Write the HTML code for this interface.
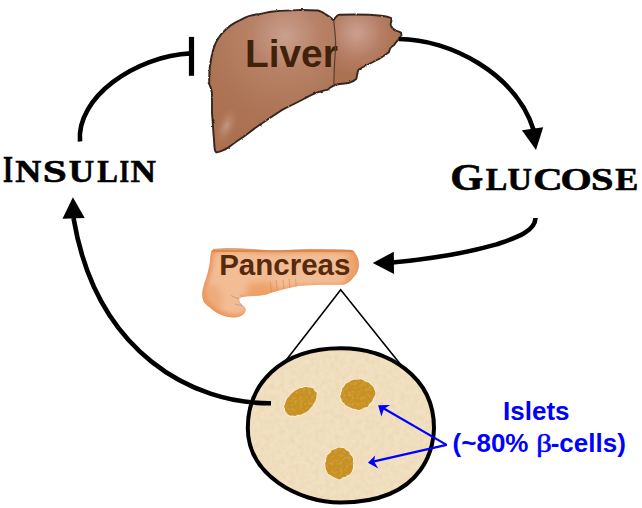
<!DOCTYPE html>
<html><head><meta charset="utf-8">
<style>
html,body{margin:0;padding:0;background:#fff;width:642px;height:508px;overflow:hidden}
svg{display:block}
</style></head><body>
<svg width="642" height="508" viewBox="0 0 642 508">
<defs>
  <radialGradient id="lv1" cx="285" cy="36" r="110" gradientUnits="userSpaceOnUse">
    <stop offset="0" stop-color="#caa08f"/>
    <stop offset="0.3" stop-color="#b88268"/>
    <stop offset="0.7" stop-color="#ad7555"/>
    <stop offset="1" stop-color="#ab7050"/>
  </radialGradient>
  <radialGradient id="lv2" cx="357" cy="33" r="42" gradientUnits="userSpaceOnUse">
    <stop offset="0" stop-color="#cba091"/>
    <stop offset="0.6" stop-color="#b57d62"/>
    <stop offset="1" stop-color="#ab7252"/>
  </radialGradient>
  <radialGradient id="lv3">
    <stop offset="0" stop-color="#cfa690" stop-opacity="0.7"/>
    <stop offset="0.45" stop-color="#c49680" stop-opacity="0.4"/>
    <stop offset="1" stop-color="#b57b5e" stop-opacity="0"/>
  </radialGradient>
  <linearGradient id="pc" x1="0" y1="248" x2="0" y2="318" gradientUnits="userSpaceOnUse">
    <stop offset="0" stop-color="#e98f4c"/>
    <stop offset="0.08" stop-color="#eea26a"/>
    <stop offset="0.2" stop-color="#f2bd96"/>
    <stop offset="0.55" stop-color="#f0b68c"/>
    <stop offset="1" stop-color="#e99e66"/>
  </linearGradient>
  <radialGradient id="pc2" cx="280" cy="289" r="30" gradientUnits="userSpaceOnUse">
    <stop offset="0" stop-color="#e99455" stop-opacity="0.8"/>
    <stop offset="1" stop-color="#e99455" stop-opacity="0"/>
  </radialGradient>
  <filter id="tex" x="0" y="0" width="100%" height="100%" color-interpolation-filters="sRGB">
    <feTurbulence type="fractalNoise" baseFrequency="0.2" numOctaves="3" seed="4"/>
    <feColorMatrix type="matrix" values="0 0 0 0 0.90  0 0 0 0 0.78  0 0 0 0 0.58  2.2 0 0 0 -0.9"/>
  </filter>
  <filter id="tex2" x="0" y="0" width="100%" height="100%" color-interpolation-filters="sRGB">
    <feTurbulence type="fractalNoise" baseFrequency="0.35" numOctaves="2" seed="8"/>
    <feColorMatrix type="matrix" values="0 0 0 0 0.80  0 0 0 0 0.66  0 0 0 0 0.30  3 0 0 0 -1.3"/>
  </filter>
  <clipPath id="ovclip"><path d="M340.5 348.3 C 388.3 348.3, 434 376.7, 434 428 C 434 440.1, 429.4 502.5, 340.5 502.5 C 298.5 502.5, 247.8 475, 247.8 428 C 247.8 385.1, 280 348.3, 340.5 348.3 Z"/></clipPath>
  <clipPath id="isclip">
    <path d="M314.5 390.9 L315.5 391.7 L316.7 392.5 L316.8 394.0 L316.3 395.7 L316.4 397.1 L316.2 398.6 L315.5 400.2 L315.2 401.8 L313.9 403.3 L313.0 404.9 L312.0 406.5 L310.6 408.0 L309.3 409.5 L307.8 411.0 L306.1 412.2 L304.1 412.9 L302.4 413.9 L300.5 414.7 L298.8 414.7 L297.1 415.0 L295.1 416.0 L293.6 415.7 L292.0 415.5 L290.2 415.8 L288.9 415.1 L287.8 414.3 L286.7 413.5 L286.4 412.1 L285.3 411.3 L285.1 409.9 L285.0 408.5 L284.2 407.4 L284.0 405.9 L285.0 404.2 L285.4 402.6 L286.1 401.0 L286.6 399.4 L287.7 397.8 L289.3 396.3 L290.3 394.7 L291.8 393.2 L293.4 391.9 L295.1 390.6 L297.0 389.8 L298.8 388.6 L300.7 387.9 L302.4 387.9 L304.3 387.1 L306.0 387.1 L307.6 387.2 L309.0 387.5 L310.7 387.4 L312.1 388.0 L313.5 388.4 L314.1 389.7Z"/>
    <path d="M375.4 392.7 L375.3 394.5 L374.6 396.2 L373.6 397.7 L372.8 399.2 L372.4 400.8 L371.4 402.2 L369.9 403.2 L368.8 404.6 L368.1 406.5 L366.4 407.3 L364.4 407.6 L362.7 408.4 L361.0 409.6 L359.1 410.0 L357.1 409.8 L355.2 409.1 L353.3 408.8 L351.5 408.3 L350.0 407.3 L348.3 406.7 L346.7 405.8 L345.1 404.9 L344.3 403.3 L342.8 402.2 L341.7 400.8 L341.5 399.0 L340.4 397.5 L340.3 395.8 L341.1 394.1 L341.1 392.5 L341.9 390.9 L342.1 389.3 L342.9 387.7 L344.1 386.5 L345.0 385.0 L345.9 383.5 L347.8 382.7 L349.4 381.9 L350.8 380.7 L352.6 380.0 L354.5 379.5 L356.4 379.7 L358.3 379.6 L360.3 379.2 L362.1 379.7 L363.8 380.4 L365.3 381.4 L366.9 382.2 L368.9 382.6 L370.0 384.0 L371.5 385.0 L372.6 386.4 L373.7 387.8 L374.2 389.5 L375.1 391.0Z"/>
    <path d="M353.4 463.2 L353.0 464.9 L353.0 466.7 L352.8 468.5 L352.3 470.1 L351.7 471.8 L350.8 473.3 L349.5 474.4 L347.7 474.9 L346.6 476.0 L345.3 476.9 L343.7 477.0 L342.3 477.5 L341.0 478.9 L339.4 479.5 L337.8 479.0 L336.3 478.2 L334.8 477.8 L333.4 477.0 L332.0 476.3 L330.8 475.2 L329.3 474.4 L327.9 473.4 L327.0 471.9 L326.3 470.3 L325.7 468.5 L325.5 466.7 L325.4 465.0 L325.2 463.2 L326.0 461.5 L326.2 459.8 L326.3 458.1 L326.9 456.5 L327.5 454.9 L328.9 453.9 L330.2 452.9 L331.1 451.5 L331.9 449.9 L333.6 449.7 L335.0 449.2 L336.4 448.4 L337.8 447.7 L339.4 447.6 L340.9 448.1 L342.6 447.7 L344.1 448.2 L345.3 449.6 L346.5 450.5 L348.0 451.1 L349.2 452.3 L349.9 453.8 L350.8 455.2 L352.1 456.4 L352.8 458.0 L353.2 459.7 L353.0 461.5Z"/>
  </clipPath>
  <filter id="pblur" x="-10%" y="-10%" width="120%" height="120%"><feGaussianBlur stdDeviation="3"/></filter>
  <filter id="pblur2" x="-50%" y="-50%" width="200%" height="200%"><feGaussianBlur stdDeviation="3"/></filter>
  <filter id="pblur3" x="-10%" y="-100%" width="120%" height="300%"><feGaussianBlur stdDeviation="0.8"/></filter>
  <filter id="rough" x="-5%" y="-5%" width="110%" height="110%">
    <feTurbulence type="fractalNoise" baseFrequency="0.25" numOctaves="2" seed="2" result="n"/>
    <feDisplacementMap in="SourceGraphic" in2="n" scale="2.2" xChannelSelector="R" yChannelSelector="G"/>
  </filter>
</defs>

<!-- liver -->
<g id="liver">
<path d="M209.2 82.5 C 209 73, 210 63, 211.8 55.5 C 213 50, 214 47, 215.4 43.7 C 217 40, 219 37, 221.3 34.2 C 224 31, 227 28, 230.7 25.4 C 234 23, 237 21.5, 240.2 20.1 C 243 18.5, 246 17, 249.6 15.9 C 253 15, 256 14.5, 260 14 C 265 13, 269 12, 273.2 11.5 C 281 10.8, 290 10.2, 297 10.1 C 305 10, 312 10.2, 318.1 10.5 C 321 11, 323 12.5, 325.1 14 C 327.5 15.5, 330 17, 331.4 18.2 C 332.3 19, 333 19.8, 333.5 20.3 C 335 18, 337 15.5, 339.1 14.7 C 350 14.5, 365 14.6, 369.2 14.8 C 378 15.5, 384 16, 386.9 16.7 C 390 17.5, 392 18, 391.9 18.7 C 391 21, 390.5 24, 390.9 25.6 C 392 28, 394 30, 395.8 30.5 C 398 31.5, 400 32, 400.7 32.5 C 401.5 34, 401.5 35.5, 401.1 36.4 C 400 38, 399 39.5, 397.8 40.4 C 396 42, 395 44, 393.8 45.3 C 391 47, 390 48.5, 389.9 49.2 C 389.5 50.5, 389 51.5, 388.9 52.2 C 385 55, 382 57, 379 59 C 374 61.5, 370 63.5, 367.2 65 C 363 67, 360 68.5, 358.4 69.9 C 357 73, 357 76, 356.4 78.7 C 354 81, 352 82, 349.5 82.7 C 345 83.5, 338 84, 335.7 84.6 C 334 85, 333 86, 331.8 86.6 C 330 87.5, 329 88.5, 327.9 89.6 C 322 91, 318 92, 315.6 93.1 C 310 95.5, 307 97, 304.7 98.5 C 298 102, 290 106, 285 108.3 C 278 112, 270 118, 263.2 122.5 C 256 127, 250 132, 243.6 136.7 C 238 140, 233 144, 228.3 147.6 C 224 150, 219 152, 216.4 152.4 C 215 151.5, 215 150.5, 214.8 149.8 C 214 143, 214 138, 213.5 134.5 C 213 125, 212.3 118, 212 112.7 C 212 105, 212 98, 212 93 C 211 88, 210 85, 208.7 82.9 Z" fill="url(#lv1)"/>
<path d="M333.5 20.3 C 335 18, 337 15.5, 339.1 14.7 C 350 14.5, 365 14.6, 369.2 14.8 C 378 15.5, 384 16, 386.9 16.7 C 390 17.5, 392 18, 391.9 18.7 C 391 21, 390.5 24, 390.9 25.6 C 392 28, 394 30, 395.8 30.5 C 398 31.5, 400 32, 400.7 32.5 C 401.5 34, 401.5 35.5, 401.1 36.4 C 400 38, 399 39.5, 397.8 40.4 C 396 42, 395 44, 393.8 45.3 C 391 47, 390 48.5, 389.9 49.2 C 389.5 50.5, 389 51.5, 388.9 52.2 C 385 55, 382 57, 379 59 C 374 61.5, 370 63.5, 367.2 65 C 363 67, 360 68.5, 358.4 69.9 C 357 73, 357 76, 356.4 78.7 C 354 81, 352 82, 349.5 82.7 C 345 83.5, 338 84, 333.9 86 C 334 76, 334.5 66, 334.7 60.2 C 335 55, 335.6 50, 335.6 43.5 C 335.5 35, 334.5 26, 333.5 20.3 Z" fill="url(#lv2)"/>
<ellipse cx="226.5" cy="126" rx="10" ry="20" transform="rotate(22 226.5 126)" fill="url(#lv3)"/>

<path d="M209.2 82.5 C 209 73, 210 63, 211.8 55.5 C 213 50, 214 47, 215.4 43.7 C 217 40, 219 37, 221.3 34.2 C 224 31, 227 28, 230.7 25.4 C 234 23, 237 21.5, 240.2 20.1 C 243 18.5, 246 17, 249.6 15.9 C 253 15, 256 14.5, 260 14 C 265 13, 269 12, 273.2 11.5 C 281 10.8, 290 10.2, 297 10.1 C 305 10, 312 10.2, 318.1 10.5 C 321 11, 323 12.5, 325.1 14 C 327.5 15.5, 330 17, 331.4 18.2 C 332.3 19, 333 19.8, 333.5 20.3 C 335 18, 337 15.5, 339.1 14.7 C 350 14.5, 365 14.6, 369.2 14.8 C 378 15.5, 384 16, 386.9 16.7 C 390 17.5, 392 18, 391.9 18.7 C 391 21, 390.5 24, 390.9 25.6 C 392 28, 394 30, 395.8 30.5 C 398 31.5, 400 32, 400.7 32.5 C 401.5 34, 401.5 35.5, 401.1 36.4 C 400 38, 399 39.5, 397.8 40.4 C 396 42, 395 44, 393.8 45.3 C 391 47, 390 48.5, 389.9 49.2 C 389.5 50.5, 389 51.5, 388.9 52.2 C 385 55, 382 57, 379 59 C 374 61.5, 370 63.5, 367.2 65 C 363 67, 360 68.5, 358.4 69.9 C 357 73, 357 76, 356.4 78.7 C 354 81, 352 82, 349.5 82.7 C 345 83.5, 338 84, 335.7 84.6 C 334 85, 333 86, 331.8 86.6 C 330 87.5, 329 88.5, 327.9 89.6 C 322 91, 318 92, 315.6 93.1 C 310 95.5, 307 97, 304.7 98.5 C 298 102, 290 106, 285 108.3 C 278 112, 270 118, 263.2 122.5 C 256 127, 250 132, 243.6 136.7 C 238 140, 233 144, 228.3 147.6 C 224 150, 219 152, 216.4 152.4 C 215 151.5, 215 150.5, 214.8 149.8 C 214 143, 214 138, 213.5 134.5 C 213 125, 212.3 118, 212 112.7 C 212 105, 212 98, 212 93 C 211 88, 210 85, 208.7 82.9 Z" fill="none" stroke="#35271f" stroke-width="1.9" filter="url(#rough)"/>
</g>
<text x="247.4" y="66.5" font-family="Liberation Sans, sans-serif" font-weight="bold" font-size="38.9" fill="#40220a" dx="-2.5">Liver</text>
<path d="M333.7 20.3 C 334.5 28, 335.6 36, 335.6 43.5 C 335.6 52, 334.9 58, 334.7 60.2 C 334.3 68, 333.9 76, 333.9 87" fill="none" stroke="#5a3e34" stroke-width="1.2"/>

<!-- pancreas -->
<clipPath id="pcclip"><path d="M213.5 249.3 C 222 248.5, 228 248.3, 234.7 248.5 C 250 249, 262 250.5, 274.4 250.6 C 290 250.5, 300 249.3, 314.2 249.3 C 330 249.5, 342 249.8, 351.2 250.1 C 353.5 250.8, 354.5 251.8, 355.2 253.2 C 357.5 256, 358.9 260, 358.9 265 C 358.8 269, 357 274, 354.1 276.6 C 352 279.5, 350 281.5, 348.3 282.4 C 346 284, 344 284.8, 342.5 284.8 L 319.3 284.8 C 312 285, 305 285.4, 300 285.8 C 292 286.8, 284 289.5, 277.4 290.9 C 272 292, 268 294, 264 295 C 258 296, 248 296, 243 296.9 C 241 297.3, 239.3 298, 239.1 298.7 C 239.2 300, 239.5 301.2, 240 302.4 C 241 304, 242.5 305, 243.8 306.2 C 245 307.5, 245.8 308.8, 245.7 309.9 C 245.5 312, 244 314, 241.9 315.5 C 240 316.8, 237.5 317.4, 235.4 317.4 C 232 317.4, 229 317, 226 316.4 C 222.5 315.5, 219.5 314.2, 216.7 312.7 C 214 311, 211.5 309.2, 209.2 307.1 C 206.8 305.2, 204.8 303.5, 203.6 301.5 C 202.5 299, 202.1 296.5, 202.2 294 C 202.4 289, 204 284, 205.6 279.7 C 207.3 274.5, 208.7 269, 209.6 263.8 C 210.2 259, 210.3 256, 210.9 253.2 C 211.3 251.2, 212.2 249.8, 213.5 249.3 Z"/></clipPath>
<g clip-path="url(#pcclip)">
  <rect x="195" y="240" width="170" height="85" fill="#e99358"/>
  <path d="M213.5 249.3 C 222 248.5, 228 248.3, 234.7 248.5 C 250 249, 262 250.5, 274.4 250.6 C 290 250.5, 300 249.3, 314.2 249.3 C 330 249.5, 342 249.8, 351.2 250.1 C 353.5 250.8, 354.5 251.8, 355.2 253.2 C 357.5 256, 358.9 260, 358.9 265 C 358.8 269, 357 274, 354.1 276.6 C 352 279.5, 350 281.5, 348.3 282.4 C 346 284, 344 284.8, 342.5 284.8 L 319.3 284.8 C 312 285, 305 285.4, 300 285.8 C 292 286.8, 284 289.5, 277.4 290.9 C 272 292, 268 294, 264 295 C 258 296, 248 296, 243 296.9 C 241 297.3, 239.3 298, 239.1 298.7 C 239.2 300, 239.5 301.2, 240 302.4 C 241 304, 242.5 305, 243.8 306.2 C 245 307.5, 245.8 308.8, 245.7 309.9 C 245.5 312, 244 314, 241.9 315.5 C 240 316.8, 237.5 317.4, 235.4 317.4 C 232 317.4, 229 317, 226 316.4 C 222.5 315.5, 219.5 314.2, 216.7 312.7 C 214 311, 211.5 309.2, 209.2 307.1 C 206.8 305.2, 204.8 303.5, 203.6 301.5 C 202.5 299, 202.1 296.5, 202.2 294 C 202.4 289, 204 284, 205.6 279.7 C 207.3 274.5, 208.7 269, 209.6 263.8 C 210.2 259, 210.3 256, 210.9 253.2 C 211.3 251.2, 212.2 249.8, 213.5 249.3 Z" fill="#f2bd95" filter="url(#pblur)" transform="translate(281 283) scale(0.96 0.92) translate(-281 -283)"/>
  <ellipse cx="262" cy="290" rx="16" ry="8" fill="#eb9a5c" opacity="0.75" filter="url(#pblur2)"/>
  <ellipse cx="352" cy="270" rx="9" ry="16" fill="#ec985c" opacity="0.6" filter="url(#pblur2)"/>
  <ellipse cx="212" cy="300" rx="10" ry="16" fill="#ea965c" opacity="0.45" filter="url(#pblur2)"/>
  <path d="M205 251 C 250 251.5, 320 250.5, 357 251.5" fill="none" stroke="#e8843a" stroke-width="4.5" filter="url(#pblur3)"/>
  <g stroke="#d98a58" stroke-width="0.9" fill="none" opacity="0.7">
    <path d="M270 281 L271.5 292"/><path d="M276 280 L277.5 291"/><path d="M283 280 L284 290"/><path d="M289 279 L290 289"/><path d="M295.5 279 L296.5 288"/>
  </g>
  <g stroke="#9c948c" stroke-width="0.8" fill="none" opacity="0.8">
    <path d="M231 295.5 L235 297.5 L239 298.7"/><path d="M235 304 L238.5 305 L242 305.5"/><path d="M241 295 L242 297"/>
  </g>
</g>
<path d="M213.5 249.3 C 222 248.5, 228 248.3, 234.7 248.5 C 250 249, 262 250.5, 274.4 250.6 C 290 250.5, 300 249.3, 314.2 249.3 C 330 249.5, 342 249.8, 351.2 250.1" fill="none" stroke="#9a9aa0" stroke-width="0.8" opacity="0.7"/>
<text x="221.1" y="275.4" font-family="Liberation Sans, sans-serif" font-weight="bold" font-size="29.5" fill="#572a0b" dx="-1.9">Pancreas</text>

<!-- zoom triangle -->
<polyline points="285.5,361 340.7,289.7 401,365" fill="none" stroke="#000" stroke-width="1.6"/>

<!-- oval -->
<path d="M340.5 348.3 C 388.3 348.3, 434 376.7, 434 428 C 434 440.1, 429.4 502.5, 340.5 502.5 C 298.5 502.5, 247.8 475, 247.8 428 C 247.8 385.1, 280 348.3, 340.5 348.3 Z" fill="#f1e0c1"/>
<rect x="240" y="340" width="200" height="170" filter="url(#tex)" clip-path="url(#ovclip)" opacity="0.3"/>
<path d="M340.5 348.3 C 388.3 348.3, 434 376.7, 434 428 C 434 440.1, 429.4 502.5, 340.5 502.5 C 298.5 502.5, 247.8 475, 247.8 428 C 247.8 385.1, 280 348.3, 340.5 348.3 Z" fill="none" stroke="#000" stroke-width="4"/>

<!-- islets -->
<g>
    <path fill="none" stroke="#fbf3de" stroke-width="1.6" d="M314.5 390.9 L315.5 391.7 L316.7 392.5 L316.8 394.0 L316.3 395.7 L316.4 397.1 L316.2 398.6 L315.5 400.2 L315.2 401.8 L313.9 403.3 L313.0 404.9 L312.0 406.5 L310.6 408.0 L309.3 409.5 L307.8 411.0 L306.1 412.2 L304.1 412.9 L302.4 413.9 L300.5 414.7 L298.8 414.7 L297.1 415.0 L295.1 416.0 L293.6 415.7 L292.0 415.5 L290.2 415.8 L288.9 415.1 L287.8 414.3 L286.7 413.5 L286.4 412.1 L285.3 411.3 L285.1 409.9 L285.0 408.5 L284.2 407.4 L284.0 405.9 L285.0 404.2 L285.4 402.6 L286.1 401.0 L286.6 399.4 L287.7 397.8 L289.3 396.3 L290.3 394.7 L291.8 393.2 L293.4 391.9 L295.1 390.6 L297.0 389.8 L298.8 388.6 L300.7 387.9 L302.4 387.9 L304.3 387.1 L306.0 387.1 L307.6 387.2 L309.0 387.5 L310.7 387.4 L312.1 388.0 L313.5 388.4 L314.1 389.7Z"/>
    <path fill="none" stroke="#fbf3de" stroke-width="1.6" d="M375.4 392.7 L375.3 394.5 L374.6 396.2 L373.6 397.7 L372.8 399.2 L372.4 400.8 L371.4 402.2 L369.9 403.2 L368.8 404.6 L368.1 406.5 L366.4 407.3 L364.4 407.6 L362.7 408.4 L361.0 409.6 L359.1 410.0 L357.1 409.8 L355.2 409.1 L353.3 408.8 L351.5 408.3 L350.0 407.3 L348.3 406.7 L346.7 405.8 L345.1 404.9 L344.3 403.3 L342.8 402.2 L341.7 400.8 L341.5 399.0 L340.4 397.5 L340.3 395.8 L341.1 394.1 L341.1 392.5 L341.9 390.9 L342.1 389.3 L342.9 387.7 L344.1 386.5 L345.0 385.0 L345.9 383.5 L347.8 382.7 L349.4 381.9 L350.8 380.7 L352.6 380.0 L354.5 379.5 L356.4 379.7 L358.3 379.6 L360.3 379.2 L362.1 379.7 L363.8 380.4 L365.3 381.4 L366.9 382.2 L368.9 382.6 L370.0 384.0 L371.5 385.0 L372.6 386.4 L373.7 387.8 L374.2 389.5 L375.1 391.0Z"/>
    <path fill="none" stroke="#fbf3de" stroke-width="1.6" d="M353.4 463.2 L353.0 464.9 L353.0 466.7 L352.8 468.5 L352.3 470.1 L351.7 471.8 L350.8 473.3 L349.5 474.4 L347.7 474.9 L346.6 476.0 L345.3 476.9 L343.7 477.0 L342.3 477.5 L341.0 478.9 L339.4 479.5 L337.8 479.0 L336.3 478.2 L334.8 477.8 L333.4 477.0 L332.0 476.3 L330.8 475.2 L329.3 474.4 L327.9 473.4 L327.0 471.9 L326.3 470.3 L325.7 468.5 L325.5 466.7 L325.4 465.0 L325.2 463.2 L326.0 461.5 L326.2 459.8 L326.3 458.1 L326.9 456.5 L327.5 454.9 L328.9 453.9 L330.2 452.9 L331.1 451.5 L331.9 449.9 L333.6 449.7 L335.0 449.2 L336.4 448.4 L337.8 447.7 L339.4 447.6 L340.9 448.1 L342.6 447.7 L344.1 448.2 L345.3 449.6 L346.5 450.5 L348.0 451.1 L349.2 452.3 L349.9 453.8 L350.8 455.2 L352.1 456.4 L352.8 458.0 L353.2 459.7 L353.0 461.5Z"/>
  </g>
<g clip-path="url(#isclip)">
<rect x="280" y="375" width="100" height="108" fill="#c98f20"/>
<rect x="280" y="375" width="100" height="108" filter="url(#tex2)" opacity="0.7"/>
</g>

<!-- arrows -->
<g fill="none" stroke="#000" stroke-width="4.6" stroke-linecap="butt">
  <path d="M80 141.5 C 76 97.6, 135.2 55.9, 191 53.4"/>
  <path d="M399 39 C 450 39.3, 516.3 73.5, 534 131"/>
  <path d="M535.5 218 C 535 232, 515 238, 496.5 244.4 C 470 252, 430 259, 392 262.5"/>
  <path d="M271 403.3 C 192.9 403.9, 96.2 353.3, 73.5 218"/>
</g>
<rect x="188.9" y="36.9" width="5.2" height="38.9" fill="#000"/>
<polygon points="521.9,130.2 543.2,127.2 536,149.9" fill="#000"/>
<polygon points="372.8,262.9 393.8,251.7 394,274.1" fill="#000"/>
<polygon points="72.9,197.3 62.5,218.8 84.7,218.1" fill="#000"/>

<!-- blue arrows -->
<polyline points="383,408 446.6,444.9 373,461.6" fill="none" stroke="#0000ff" stroke-width="2.2" stroke-linejoin="bevel"/>
<polygon points="378.1,405.2 390.2,404.9 384,408.8 381.4,416.6" fill="#0000ff"/>
<polygon points="367.9,462.7 375.2,455.4 374,461.4 378.3,468.4" fill="#0000ff"/>

<g font-family="Liberation Serif, serif" font-weight="bold" fill="#000" stroke="#000" stroke-width="0.6">
<text transform="translate(4.00,182.30) scale(0.669,1)" x="-1.34" font-size="38.32">I</text>
<text transform="translate(15.90,182.30) scale(1.126,1)" x="-0.64" font-size="32.06">N</text>
<text transform="translate(45.20,182.30) scale(1.349,1)" x="-1.76" font-size="32.06">S</text>
<text transform="translate(69.60,182.30) scale(1.099,1)" x="-0.80" font-size="32.06">U</text>
<text transform="translate(97.70,182.30) scale(0.966,1)" x="-0.48" font-size="32.06">L</text>
<text transform="translate(120.30,182.30) scale(0.770,1)" x="-1.12" font-size="32.06">I</text>
<text transform="translate(131.20,182.30) scale(1.098,1)" x="-0.64" font-size="32.06">N</text>
<text transform="translate(452.30,189.70) scale(1.111,1)" x="-1.92" font-size="38.32">G</text>
<text transform="translate(486.10,189.70) scale(1.027,1)" x="-0.47" font-size="31.45">L</text>
<text transform="translate(508.40,189.70) scale(1.077,1)" x="-0.79" font-size="31.45">U</text>
<text transform="translate(535.20,189.70) scale(1.293,1)" x="-1.57" font-size="31.45">C</text>
<text transform="translate(562.60,189.70) scale(1.277,1)" x="-1.57" font-size="31.45">O</text>
<text transform="translate(593.10,189.70) scale(1.286,1)" x="-1.73" font-size="31.45">S</text>
<text transform="translate(615.80,189.70) scale(1.097,1)" x="-0.47" font-size="31.45">E</text>
</g>

<g font-family="Liberation Sans, sans-serif" font-weight="bold" fill="#0000ff">
<text x="504.8" y="420.4" font-size="26" dx="-1.7">Islets</text>
<text x="453.9" y="451.8" font-size="26" dx="-1.3">(~80%</text>
<text transform="translate(538.2,451.8) scale(1.2,1)" x="-1.7" font-size="25.5" font-family="Liberation Serif, serif" font-weight="normal" stroke="#0000ff" stroke-width="0.5">β</text>
<text x="551.7" y="451.8" font-size="26" dx="-1.04">-cells)</text>
</g>
</svg>
</body></html>
